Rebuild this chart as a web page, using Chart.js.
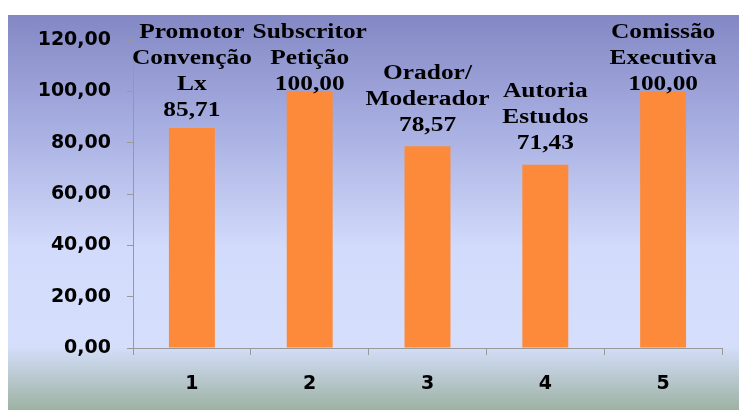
<!DOCTYPE html>
<html>
<head>
<meta charset="utf-8">
<script src="https://cdn.jsdelivr.net/npm/chart.js@4/dist/chart.umd.min.js"></script>
<style>
    html, body { margin: 0; padding: 0; background: #fff; }
    #wrap { width: 739px; height: 410px; }
</style>
</head>
<body>
<div id="wrap"><canvas id="grafico"></canvas></div>
<script>
const categorias = ['1', '2', '3', '4', '5']
const valores = [85.71, 100.00, 78.57, 71.43, 100.00]
const descricoes = [
    ['Promotor', 'Convenção', 'Lx'],
    ['Subscritor', 'Petição'],
    ['Orador/', 'Moderador'],
    ['Autoria', 'Estudos'],
    ['Comissão', 'Executiva']
]
const ticksY = [0, 20, 40, 60, 80, 100, 120]

function formatar(v) {
    return v.toFixed(2).replace('.', ',')
}

// fundo em degradê (azul em cima, verde-acinzentado por baixo do eixo)
const fundo = {
    id: 'fundo',
    beforeDraw(chart) {
        const ctx = chart.ctx
        const eixo = chart.chartArea.bottom
        ctx.save()
        ctx.fillStyle = '#ffffff'
        ctx.fillRect(0, 0, chart.width, chart.height)
        let g = ctx.createLinearGradient(0, 15, 0, eixo)
        g.addColorStop(0, '#8388c4')
        g.addColorStop(0.35, '#a9b0e2')
        g.addColorStop(0.7, '#d2dbfb')
        g.addColorStop(1, '#d5dffc')
        ctx.fillStyle = g
        ctx.fillRect(8, 15, chart.width - 8, eixo - 15)
        g = ctx.createLinearGradient(0, eixo, 0, chart.height)
        g.addColorStop(0, '#d3ddf8')
        g.addColorStop(1, '#9db2a3')
        ctx.fillStyle = g
        ctx.fillRect(8, eixo, chart.width - 8, chart.height - eixo)
        ctx.restore()
    }
}

// rótulos por cima das barras
const rotulos = {
    id: 'rotulos',
    afterDatasetsDraw(chart) {
        const ctx = chart.ctx
        const meta = chart.getDatasetMeta(0)
        ctx.save()
        ctx.font = 'bold 20px "Liberation Serif", "Times New Roman", serif'
        ctx.fillStyle = '#000'
        ctx.textAlign = 'center'
        ctx.textBaseline = 'middle'
        meta.data.forEach((bar, i) => {
            const linhas = descricoes[i].concat([formatar(valores[i])])
            const alt = 26
            const y0 = Math.max(33, bar.y - 21 - (linhas.length - 1) * alt)
            linhas.forEach((t, k) => {
                ctx.save()
                ctx.translate(bar.x, y0 + k * alt)
                ctx.scale(1.27, 1)
                ctx.fillText(t, 0, 0)
                ctx.restore()
            })
        })
        ctx.restore()
    }
}

const fonteEixo = { family: '"DejaVu Sans", Verdana, sans-serif', size: 19, weight: 'bold' }

new Chart(document.getElementById('grafico'), {
    type: 'bar',
    data: {
        labels: categorias,
        datasets: [{
            data: valores,
            backgroundColor: '#fd8a3a',
            borderWidth: 0,
            categoryPercentage: 1,
            barPercentage: 0.39
        }]
    },
    options: {
        responsive: true,
        maintainAspectRatio: false,
        animation: false,
        layout: { padding: { top: 40, right: 17, left: 0, bottom: 0 } },
        plugins: { legend: { display: false }, tooltip: { enabled: false } },
        scales: {
            y: {
                min: 0,
                max: 120,
                afterBuildTicks(scale) { scale.ticks = ticksY.map(v => ({ value: v })) },
                afterFit(scale) { scale.width = 133 },
                ticks: { callback: v => formatar(v), color: '#000', font: fonteEixo, padding: 16 },
                grid: { drawOnChartArea: false, tickLength: 6, color: '#999' },
                border: { color: '#999' }
            },
            x: {
                afterFit(scale) { scale.height = 62 },
                ticks: { color: '#000', font: fonteEixo, padding: 18 },
                grid: { drawOnChartArea: false, tickLength: 7, color: '#999', offset: true },
                border: { color: '#999' }
            }
        }
    },
    plugins: [fundo, rotulos]
})
</script>
</body>
</html>
